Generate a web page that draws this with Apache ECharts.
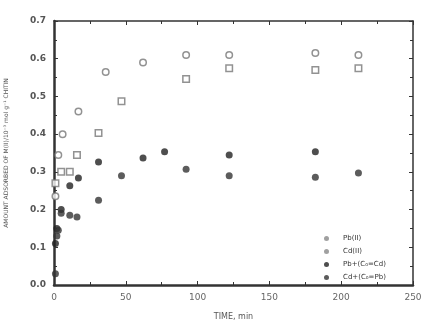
<!DOCTYPE html>
<html><head><meta charset="utf-8">
<script src="https://cdn.jsdelivr.net/npm/echarts@6/dist/echarts.min.js"></script>
<style>html,body{margin:0;padding:0;background:#fff}#c{width:423px;height:328px}</style>
</head><body><div id="c"></div>
<script>
var seriesNames = ['Pb(II)', 'Cd(II)', 'Pb+(C\u2080=Cd)', 'Cd+(C\u2080=Pb)'];
var pbII = [[1,0.235],[3,0.345],[6,0.40],[17,0.46],[36,0.565],[62,0.59],[92,0.61],[122,0.61],[182,0.615],[212,0.61]];
var cdII = [[1,0.27],[5,0.30],[11,0.30],[16,0.345],[31,0.403],[47,0.487],[92,0.546],[122,0.575],[182,0.57],[212,0.575]];
var pbMix = [[1,0.11],[2,0.15],[5,0.20],[11,0.263],[17,0.284],[31,0.326],[62,0.337],[77,0.353],[122,0.345],[182,0.353]];
var cdMix = [[1,0.03],[2,0.13],[3,0.145],[5,0.19],[11,0.185],[16,0.18],[31,0.225],[47,0.29],[92,0.307],[122,0.29],[182,0.286],[212,0.297]];
var xTicks = [0,50,100,150,200,250];
var yTicks = [0,0.1,0.2,0.3,0.4,0.5,0.6,0.7];

var chart = echarts.init(document.getElementById('c'), null, {renderer:'canvas'});
var axisCol = '#333';
function baseX(pos, labels){
  return {type:'value', position:pos, min:0, max:250, interval:50,
    axisLine:{show:true, onZero:false, lineStyle:{color:axisCol, width: pos==='bottom'?2.5:1.5}},
    axisTick:{show:true, inside:true, length:4, lineStyle:{color:axisCol}},
    minorTick:{show:true, splitNumber:2, length:3, lineStyle:{color:axisCol}},
    splitLine:{show:false},
    axisLabel:{show:labels, color:'#666', fontSize:9, fontFamily:'DejaVu Sans', margin:8},
    name: labels?'TIME, min':'', nameLocation:'middle', nameGap:28,
    nameTextStyle:{color:'#555', fontSize:8, fontFamily:'DejaVu Sans'}};
}
function baseY(pos, labels){
  return {type:'value', position:pos, min:0, max:0.7, interval:0.1,
    axisLine:{show:true, onZero:false, lineStyle:{color:axisCol, width: pos==='left'?2.5:1.5}},
    axisTick:{show:true, inside:true, length:4, lineStyle:{color:axisCol}},
    minorTick:{show:true, splitNumber:2, length:3, lineStyle:{color:axisCol}},
    splitLine:{show:false},
    axisLabel:{show:labels, color:'#555', fontSize:9, fontWeight:'bold', fontFamily:'DejaVu Sans', margin:8,
      formatter:function(v){return v.toFixed(1);}},
    name: labels?'AMOUNT ADSORBED OF M(II)/10\u207B\u00B3 mol g\u207B\u00B9 CHITIN':'', nameLocation:'middle', nameGap:45,
    nameTextStyle:{color:'#555', fontSize:6, fontFamily:'DejaVu Sans'}};
}
var openStyle = {color:'#fff', borderColor:'#777', borderWidth:1.5};
chart.setOption({
  animation:false,
  grid:{left:54, right:10, top:21, bottom:43, outerBoundsMode:'none', containLabel:false},
  xAxis:[baseX('bottom', true), baseX('top', false)],
  yAxis:[baseY('left', true), baseY('right', false)],
  legend:{orient:'vertical', left:319, top:230, itemWidth:5, itemHeight:5, itemGap:6,
    textStyle:{fontSize:7, color:'#333', fontFamily:'DejaVu Sans', padding:[0,0,0,9]},
    data:[
      {name:seriesNames[0], icon:'circle', itemStyle:{color:'#888', borderWidth:0}},
      {name:seriesNames[1], icon:'circle', itemStyle:{color:'#888', borderWidth:0}},
      {name:seriesNames[2], icon:'circle'},
      {name:seriesNames[3], icon:'circle'}
    ]},
  series:[
    {name:seriesNames[0], type:'scatter', data:pbII, symbol:'circle', symbolSize:6.5, itemStyle:openStyle},
    {name:seriesNames[1], type:'scatter', data:cdII, symbol:'rect', symbolSize:6.5, itemStyle:openStyle},
    {name:seriesNames[2], type:'scatter', data:pbMix, symbol:'circle', symbolSize:7, itemStyle:{color:'#222'}},
    {name:seriesNames[3], type:'scatter', data:cdMix, symbol:'circle', symbolSize:7, itemStyle:{color:'#333'}}
  ]
});
</script></body></html>
